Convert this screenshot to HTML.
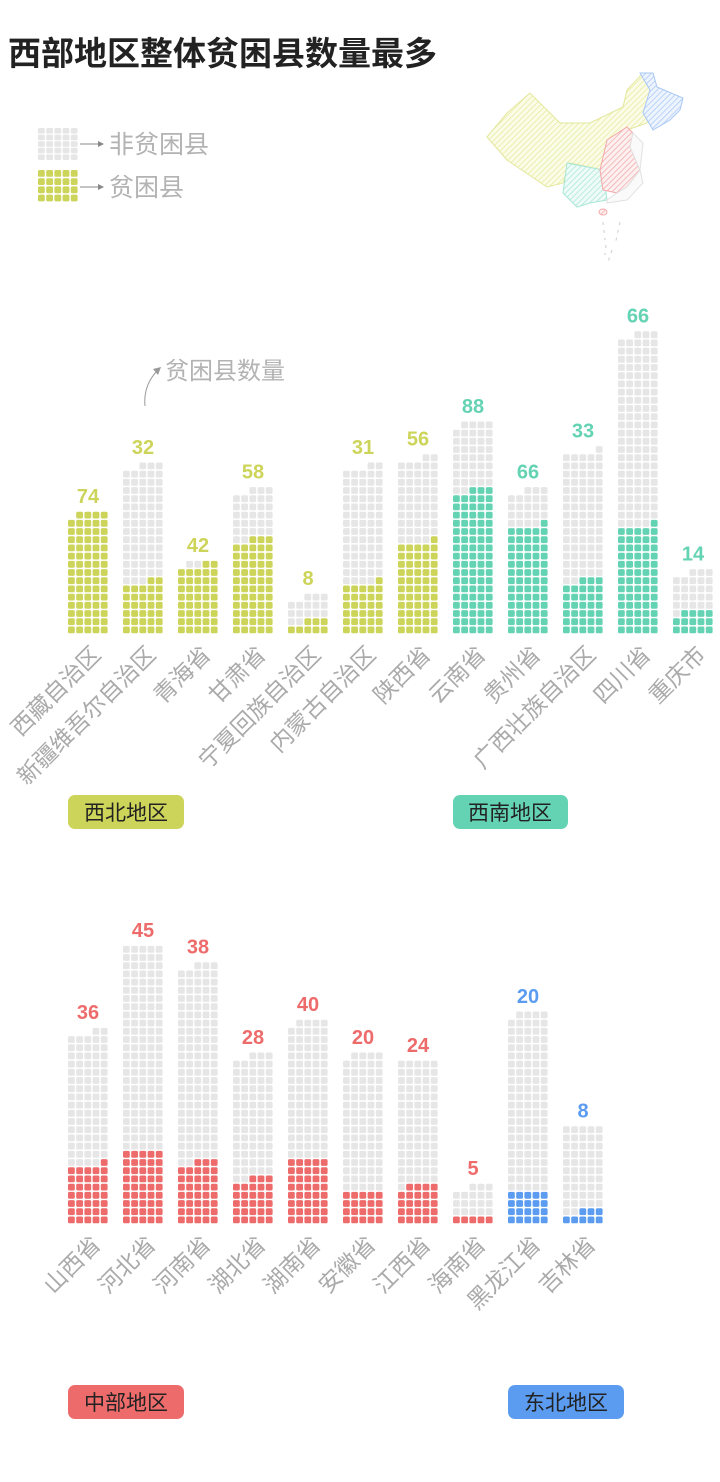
<!DOCTYPE html>
<html><head><meta charset="utf-8">
<style>
body{margin:0;background:#fff;width:720px;height:1482px;overflow:hidden;font-family:"Liberation Sans","Noto Sans CJK SC",sans-serif;}
svg{display:block}
</style></head><body>
<svg id="s" width="720" height="1482" xmlns="http://www.w3.org/2000/svg" font-family="Liberation Sans, Noto Sans CJK SC, sans-serif">
<defs>
<pattern id="hy" width="4" height="4" patternUnits="userSpaceOnUse" patternTransform="rotate(45)"><rect width="4" height="4" fill="#fbfce8"/><line x1="0" y1="0" x2="0" y2="4" stroke="#e6ea9a" stroke-width="1.5"/></pattern>
<pattern id="hb" width="4" height="4" patternUnits="userSpaceOnUse" patternTransform="rotate(45)"><rect width="4" height="4" fill="#eef4fe"/><line x1="0" y1="0" x2="0" y2="4" stroke="#a9c8f5" stroke-width="1.5"/></pattern>
<pattern id="ht" width="4" height="4" patternUnits="userSpaceOnUse" patternTransform="rotate(45)"><rect width="4" height="4" fill="#eefbf8"/><line x1="0" y1="0" x2="0" y2="4" stroke="#a8e6d6" stroke-width="1.5"/></pattern>
<pattern id="hr" width="4" height="4" patternUnits="userSpaceOnUse" patternTransform="rotate(45)"><rect width="4" height="4" fill="#fdf0f0"/><line x1="0" y1="0" x2="0" y2="4" stroke="#f2a9a9" stroke-width="1.5"/></pattern>
</defs>
<text x="8" y="65" font-size="33" font-weight="bold" fill="#222">西部地区整体贫困县数量最多</text>
<g stroke-width="1">
<polygon points="487,137 507,113 530,93 560,123 590,123 623,107 627,90 643,73 653,87 647,123 627,130 607,140 603,170 570,163 563,183 547,187 507,160" fill="url(#hy)" stroke="#e3e79a"/>
<polygon points="640,73 653,73 657,87 683,98 680,110 670,120 653,130 643,113 650,90" fill="url(#hb)" stroke="#a9c8f5"/>
<polygon points="567,163 603,170 607,200 590,203 577,207 563,193" fill="url(#ht)" stroke="#a8e6d6"/>
<polygon points="607,140 627,127 633,133 630,147 640,170 627,187 617,193 603,190 600,170" fill="url(#hr)" stroke="#f2a9a9"/>
<polygon points="633,133 643,143 640,170 643,183 627,200 607,203 607,200 617,193 627,187 640,170 630,147" fill="#fafafa" stroke="#e2e2e2"/>
<ellipse cx="603" cy="212" rx="4" ry="3" fill="url(#hr)" stroke="#f2a9a9"/>
<path d="M603,222 L605,240 M620,222 L615,245 M606,245 L605,255 M612,250 L608,262" stroke="#ccc" stroke-dasharray="3 5" fill="none"/>
</g>
<g id="leg"></g>
<line x1="80" y1="144" x2="100" y2="144" stroke="#888" stroke-width="1"/><polygon points="104,144 98,141 98,147" fill="#888"/>
<line x1="80" y1="187" x2="100" y2="187" stroke="#888" stroke-width="1"/><polygon points="104,187 98,184 98,190" fill="#888"/>
<text x="109" y="153" font-size="25" fill="#b3b3b3">非贫困县</text>
<text x="109" y="196" font-size="25" fill="#b3b3b3">贫困县</text>
<path d="M145,406 Q143,385 158,370" stroke="#999" fill="none"/><polygon points="161,367 153,369 158,375" fill="#999"/>
<text x="165" y="379" font-size="24" fill="#b3b3b3">贫困县数量</text>
<g id="bars"></g>
<rect x="68" y="795" width="116" height="34" rx="7" fill="#cdd45a"/><text x="126" y="820" font-size="21" text-anchor="middle" fill="#222">西北地区</text>
<rect x="453" y="795" width="115" height="34" rx="7" fill="#64d3b4"/><text x="510" y="820" font-size="21" text-anchor="middle" fill="#222">西南地区</text>
<rect x="68" y="1385" width="116" height="34" rx="7" fill="#ee6b6b"/><text x="126" y="1410" font-size="21" text-anchor="middle" fill="#222">中部地区</text>
<rect x="508" y="1385" width="116" height="34" rx="7" fill="#5b9cf0"/><text x="566" y="1410" font-size="21" text-anchor="middle" fill="#222">东北地区</text>
</svg>
<script>
var NS="http://www.w3.org/2000/svg";
var bars=document.getElementById('bars');
function el(t,a,p){var e=document.createElementNS(NS,t);for(var k in a)e.setAttribute(k,a[k]);(p||bars).appendChild(e);return e;}
var P=8.2,D=6.8;
function bar(x,bottom,total,poor,col,label,name){
  for(var i=0;i<total;i++){
    var r=Math.floor(i/5),c=4-(i%5);
    el('rect',{x:x+c*P,y:bottom-(r+1)*P+0.7,width:D,height:D,rx:1.6,fill:i<poor?col:'#e6e6e6'});
  }
  var rows=Math.ceil(total/5);
  el('text',{x:x+20,y:bottom-rows*P-8,'font-size':20,'font-weight':'bold','text-anchor':'middle',fill:col}).textContent=label;
  var tx=x+34,ty=bottom+22;
  el('text',{x:tx,y:ty,'font-size':23,'text-anchor':'end',fill:'#aaa',transform:'rotate(-45 '+tx+' '+ty+')'}).textContent=name;
}
var Y='#cdd45a',T='#64d3b4',R='#ee6b6b',B='#5b9cf0';
var d1=[[68,74,74,Y,'西藏自治区'],[123,103,32,Y,'新疆维吾尔自治区'],[178,44,42,Y,'青海省'],[233,88,58,Y,'甘肃省'],[288,23,8,Y,'宁夏回族自治区'],[343,102,31,Y,'内蒙古自治区'],[398,107,56,Y,'陕西省'],[453,129,88,T,'云南省'],[508,88,66,T,'贵州省'],[563,111,33,T,'广西壮族自治区'],[618,183,66,T,'四川省'],[673,38,14,T,'重庆市']];
d1.forEach(function(d){bar(d[0],634,d[1],d[2],d[3],String(d[2]),d[4]);});
var d2=[[68,117,36,R,'山西省'],[123,170,45,R,'河北省'],[178,158,38,R,'河南省'],[233,103,28,R,'湖北省'],[288,124,40,R,'湖南省'],[343,104,20,R,'安徽省'],[398,100,24,R,'江西省'],[453,23,5,R,'海南省'],[508,129,20,B,'黑龙江省'],[563,60,8,B,'吉林省']];
d2.forEach(function(d){bar(d[0],1224,d[1],d[2],d[3],String(d[2]),d[4]);});
var leg=document.getElementById('leg');
for(var r=0;r<9;r++)for(var c=0;c<5;c++){
  var y=r<5?128+r*6.6:170+(r-5)*8.2;
  el('rect',{x:38+c*8.2,y:y,width:D,height:r<5?5.6:D,rx:1.6,fill:r<5?'#e6e6e6':Y},leg);
}
</script>
</body></html>
